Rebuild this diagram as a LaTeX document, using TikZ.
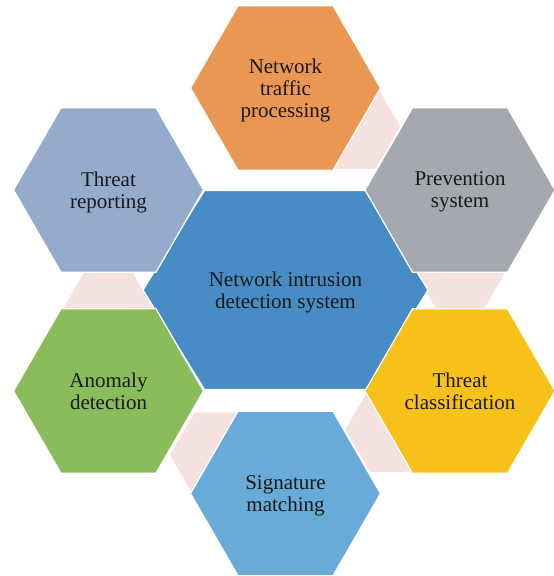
\documentclass[tikz,border=0pt]{standalone}
\usepackage{fontspec}
\setmainfont{Liberation Serif}
\usetikzlibrary{shapes.geometric,backgrounds,calc}
\definecolor{hexorange}{RGB}{233,151,82}
\definecolor{hexgray}{RGB}{165,168,175}
\definecolor{hexyellow}{RGB}{246,193,24}
\definecolor{hexsky}{RGB}{104,170,216}
\definecolor{hexgreen}{RGB}{139,188,92}
\definecolor{hexslate}{RGB}{148,171,203}
\definecolor{hexcentre}{RGB}{71,140,197}
\definecolor{hexpink}{RGB}{245,226,222}
\tikzstyle{hextext}=[text=black!90, align=center, font=\fontsize{21}{22}\selectfont,
 text depth=-1pt]
\tikzstyle{hexbox}=[hextext, regular polygon, regular polygon sides=6, minimum size=190pt,
 inner sep=0pt, draw=white, line width=1.2pt]
\tikzstyle{linkhex}=[regular polygon, regular polygon sides=6, minimum size=100pt,
 inner sep=0pt, draw=white, line width=1.2pt, fill=hexpink]
\tikzstyle{hexcore}=[draw=white, line width=1.2pt, fill=hexcentre]
\begin{document}
\begin{tikzpicture}[x=1pt,y=-1pt]
\useasboundingbox (0,0) rectangle (554,576);

% centre
\coordinate (core) at (285.5,290);
\draw[hexcore] (core) ++(-142.5,0) -- ++(61.5,-99.5) -- ++(162,0) -- ++(61.5,99.5)
 -- ++(-61.5,99.5) -- ++(-162,0) -- cycle;
\node (nids) [hextext] at (core) {Network intrusion\\detection system};

% ring
\node (ntraffic) [hexbox, fill=hexorange] at (285.5,88) {Network\\traffic\\processing};
\node (nprevent) [hexbox, fill=hexgray] at (460,190) {Prevention\\system};
\node (nclass) [hexbox, fill=hexyellow] at (460,391) {Threat\\classification};
\node (nsign) [hexbox, fill=hexsky] at (285.5,493.5) {Signature\\matching};
\node (nanomaly) [hexbox, fill=hexgreen] at (108.5,391) {Anomaly\\detection};
\node (nreport) [hexbox, fill=hexslate] at (108.5,190) {Threat\\reporting};

% links
\begin{scope}[on background layer]
\node (lk1) [linkhex] at ($(ntraffic)!0.375!(nprevent)$) {};
\node (lk2) [linkhex] at ($(nprevent)!0.375!(nclass)$) {};
\node (lk3) [linkhex] at ($(nclass)!0.375!(nsign)$) {};
\node (lk4) [linkhex] at ($(nsign)!0.375!(nanomaly)$) {};
\node (lk5) [linkhex] at ($(nanomaly)!0.375!(nreport)$) {};
\end{scope}

\end{tikzpicture}
\end{document}
